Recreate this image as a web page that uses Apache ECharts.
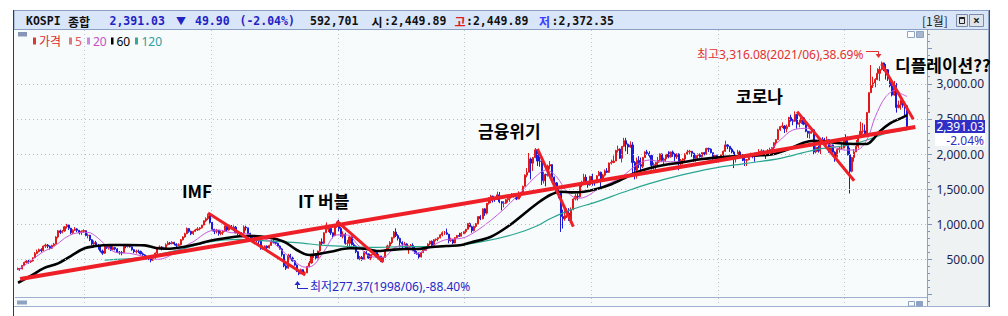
<!DOCTYPE html>
<html>
<head>
<meta charset="utf-8">
<script src="https://cdn.jsdelivr.net/npm/echarts@6.0.0/dist/echarts.min.js"></script>
<style>
html, body { margin: 0; padding: 0; background: #fff; }
#chart { width: 1008px; height: 316px; }
</style>
</head>
<body>
<div id="chart"></div>
<script>
// KOSPI 월봉, 1987/05 ~ 2022/06 (open = 전월 종가)
var firstYear = 1987, firstMonth = 5, monthCount = 431;
var firstOpen = 355;

var closes = [
  372, 366, 415, 458, 478, 468, 480, 525,
  585, 612, 640, 625, 690, 705, 688, 660, 700, 720, 820, 907,
  885, 905, 965, 990, 945, 880, 915, 935, 915, 880, 900, 910,
  840, 845, 780, 720, 740, 695, 690, 620, 590, 690, 665, 696,
  640, 670, 650, 605, 600, 595, 690, 685, 700, 680, 640, 610,
  620, 615, 580, 565, 545, 515, 510, 490, 525, 590, 660, 678,
  650, 665, 710, 735, 725, 745, 720, 700, 710, 780, 820, 866,
  940, 900, 865, 900, 920, 935, 950, 990, 1050, 1080, 1125, 1027,
  930, 900, 915, 870, 885, 900, 975, 920, 960, 950, 960, 882,
  870, 860, 870, 960, 950, 870, 830, 800, 790, 770, 760, 651,
  670, 690, 665, 700, 760, 740, 730, 690, 650, 570, 410, 376,
  560, 520, 480, 420, 330, 298, 355, 310, 310, 400, 450, 562,
  580, 520, 620, 750, 730, 880, 930, 940, 880, 840, 980, 1028,
  940, 830, 860, 730, 730, 820, 710, 690, 610, 510, 530, 504,
  600, 580, 520, 570, 590, 600, 540, 550, 480, 530, 640, 693,
  740, 810, 890, 840, 800, 740, 720, 720, 650, 680, 700, 627,
  590, 575, 535, 600, 630, 670, 720, 760, 700, 780, 790, 810,
  850, 880, 880, 860, 770, 780, 735, 810, 840, 830, 870, 896,
  930, 1010, 965, 910, 970, 1010, 1110, 1080, 1220, 1160, 1300, 1379,
  1400, 1370, 1360, 1420, 1320, 1300, 1300, 1350, 1370, 1390, 1430, 1434,
  1360, 1420, 1450, 1540, 1700, 1740, 1930, 1870, 1950, 2060, 1900, 1897,
  1620, 1710, 1700, 1830, 1850, 1670, 1590, 1470, 1450, 1110, 1080, 1124,
  1160, 1060, 1210, 1360, 1400, 1390, 1560, 1590, 1670, 1580, 1560, 1683,
  1600, 1590, 1690, 1740, 1640, 1700, 1760, 1740, 1870, 1880, 1900, 2051,
  2070, 1940, 2110, 2190, 2140, 2100, 2130, 1880, 1770, 1910, 1850, 1826,
  1950, 2030, 2010, 1980, 1840, 1850, 1880, 1910, 2000, 1910, 1930, 1997,
  1960, 2030, 2000, 1960, 2000, 1860, 1910, 1930, 2000, 2030, 2040, 2011,
  1940, 1980, 1990, 1960, 2020, 2000, 2080, 2070, 2020, 1960, 1980, 1916,
  1950, 1990, 2040, 2130, 2110, 2070, 2030, 1940, 1960, 2030, 1990, 1961,
  1910, 1920, 1995, 1995, 1980, 1970, 2015, 2035, 2045, 2010, 1985, 2026,
  2065, 2090, 2160, 2205, 2345, 2390, 2400, 2360, 2390, 2520, 2475, 2467,
  2565, 2425, 2445, 2515, 2425, 2325, 2295, 2320, 2345, 2030, 2095, 2041,
  2205, 2195, 2140, 2205, 2040, 2130, 2025, 1965, 2065, 2085, 2085, 2198,
  2120, 1990, 1755, 1950, 2030, 2110, 2250, 2325, 2330, 2270, 2590, 2873,
  2976, 3013, 3061, 3148, 3204, 3297, 3202, 3199, 3069, 2971, 2839, 2977,
  2663, 2699, 2757, 2695, 2686, 2391.03
];
var highs = [
  385, 380, 420, 470, 490, 495, 490, 530,
  605, 640, 655, 660, 700, 725, 720, 700, 710, 735, 830, 920,
  925, 920, 975, 1007, 995, 950, 930, 960, 945, 920, 915, 930,
  915, 870, 850, 790, 770, 765, 720, 695, 640, 710, 700, 710,
  710, 690, 680, 660, 620, 620, 700, 720, 710, 715, 685, 650,
  640, 640, 625, 600, 575, 555, 535, 515, 540, 600, 680, 700,
  690, 680, 730, 760, 750, 760, 750, 730, 730, 790, 830, 880,
  955, 945, 910, 910, 935, 960, 960, 1000, 1055, 1100, 1150, 1130,
  1035, 935, 935, 920, 905, 920, 985, 990, 975, 990, 985, 975,
  890, 880, 890, 985, 980, 950, 880, 835, 820, 800, 780, 760,
  700, 700, 700, 710, 780, 790, 765, 740, 700, 665, 575, 430,
  580, 580, 540, 490, 430, 345, 370, 360, 330, 410, 480, 580,
  640, 590, 625, 760, 800, 885, 1027, 975, 960, 880, 985, 1030,
  1066, 960, 900, 880, 780, 830, 830, 740, 700, 620, 550, 550,
  620, 620, 580, 575, 630, 620, 600, 580, 550, 540, 645, 710,
  760, 820, 905, 943, 860, 810, 760, 750, 730, 700, 720, 730,
  680, 620, 600, 610, 640, 690, 730, 765, 770, 790, 800, 815,
  860, 900, 905, 940, 860, 810, 790, 820, 850, 880, 890, 900,
  935, 1020, 1025, 980, 980, 1020, 1115, 1130, 1225, 1230, 1300, 1385,
  1420, 1410, 1390, 1465, 1460, 1330, 1330, 1360, 1380, 1400, 1445, 1440,
  1440, 1470, 1460, 1550, 1710, 1800, 2015, 1950, 1960, 2085, 2070, 1960,
  1900, 1750, 1720, 1850, 1900, 1850, 1680, 1600, 1520, 1460, 1210, 1210,
  1230, 1230, 1240, 1370, 1435, 1440, 1570, 1620, 1720, 1710, 1600, 1690,
  1720, 1630, 1700, 1760, 1750, 1720, 1780, 1800, 1880, 1920, 1980, 2060,
  2120, 2080, 2110, 2231, 2230, 2150, 2180, 2170, 1900, 1950, 1970, 1950,
  1960, 2040, 2060, 2040, 1990, 1880, 1890, 1960, 2010, 2010, 1950, 2000,
  2040, 2030, 2050, 2010, 2010, 2010, 1930, 1940, 2010, 2060, 2060, 2040,
  2020, 1990, 2010, 2010, 2030, 2030, 2090, 2090, 2080, 2020, 1990, 1990,
  1960, 1990, 2050, 2190, 2140, 2110, 2090, 2050, 1990, 2060, 2050, 2000,
  1970, 1930, 2000, 2020, 2000, 2020, 2030, 2070, 2070, 2060, 2010, 2070,
  2090, 2100, 2170, 2210, 2360, 2400, 2450, 2410, 2420, 2530, 2560, 2500,
  2607, 2570, 2490, 2520, 2520, 2460, 2330, 2330, 2370, 2340, 2110, 2120,
  2210, 2240, 2230, 2250, 2210, 2140, 2135, 2040, 2090, 2100, 2160, 2200,
  2280, 2250, 2090, 1960, 2070, 2200, 2260, 2460, 2440, 2420, 2600, 2880,
  3266, 3100, 3080, 3220, 3250, 3316, 3300, 3280, 3210, 3090, 3020, 3040,
  3010, 2760, 2770, 2780, 2700, 2700
];
var lows = [
  350, 340, 360, 405, 445, 440, 450, 470,
  520, 575, 600, 600, 620, 665, 660, 640, 650, 690, 715, 800,
  860, 870, 895, 940, 920, 860, 860, 905, 890, 855, 850, 880,
  830, 800, 760, 700, 700, 680, 640, 600, 566, 580, 650, 640,
  620, 630, 630, 595, 570, 560, 590, 660, 670, 670, 625, 590,
  585, 590, 570, 550, 530, 500, 490, 459, 480, 510, 575, 650,
  630, 635, 655, 700, 710, 715, 700, 670, 695, 700, 770, 810,
  860, 880, 845, 850, 890, 905, 915, 940, 985, 1030, 1060, 1010,
  900, 860, 870, 840, 845, 850, 890, 900, 910, 930, 935, 870,
  840, 835, 850, 870, 910, 860, 800, 770, 760, 750, 720, 640,
  640, 650, 610, 655, 695, 730, 710, 680, 640, 540, 390, 350,
  370, 500, 470, 410, 320, 277, 290, 300, 290, 305, 390, 440,
  520, 500, 515, 610, 700, 720, 880, 890, 850, 800, 830, 950,
  900, 820, 800, 710, 660, 660, 700, 670, 590, 500, 490, 480,
  500, 570, 510, 490, 560, 570, 530, 530, 463, 470, 520, 620,
  660, 720, 800, 820, 770, 670, 640, 700, 640, 580, 670, 620,
  580, 570, 512, 530, 590, 630, 650, 700, 690, 700, 760, 760,
  800, 830, 850, 850, 730, 750, 720, 730, 800, 820, 830, 860,
  870, 925, 960, 880, 900, 950, 1000, 1060, 1070, 1120, 1140, 1280,
  1300, 1310, 1320, 1350, 1300, 1200, 1240, 1290, 1310, 1320, 1380, 1380,
  1345, 1360, 1380, 1450, 1540, 1670, 1740, 1640, 1760, 1940, 1830, 1820,
  1560, 1580, 1540, 1680, 1780, 1650, 1490, 1440, 1370, 892, 940, 1050,
  1090, 1050, 1020, 1200, 1340, 1340, 1380, 1530, 1580, 1560, 1520, 1550,
  1550, 1550, 1590, 1690, 1530, 1630, 1680, 1730, 1730, 1850, 1870, 1900,
  2020, 1930, 1880, 2100, 2040, 2000, 2090, 1680, 1640, 1650, 1800, 1760,
  1800, 1950, 1990, 1950, 1780, 1780, 1760, 1820, 1880, 1890, 1850, 1890,
  1940, 1950, 1960, 1900, 1930, 1770, 1830, 1850, 1900, 1990, 1990, 1960,
  1890, 1890, 1910, 1950, 1950, 1980, 1990, 2030, 2010, 1900, 1930, 1880,
  1880, 1940, 1960, 2030, 2070, 2030, 2010, 1800, 1880, 1950, 1950, 1900,
  1830, 1830, 1910, 1970, 1940, 1890, 1960, 2010, 1990, 2000, 1930, 1970,
  2020, 2050, 2070, 2120, 2200, 2330, 2370, 2300, 2310, 2390, 2460, 2410,
  2460, 2360, 2380, 2430, 2410, 2310, 2230, 2220, 2290, 1990, 2010, 2020,
  2000, 2180, 2120, 2130, 2020, 2020, 2010, 1890, 1950, 2020, 2070, 2080,
  2110, 1980, 1439, 1740, 1890, 2030, 2080, 2260, 2290, 2260, 2260, 2590,
  2870, 2940, 2950, 3050, 3040, 3190, 3180, 3060, 3040, 2950, 2820, 2830,
  2590, 2650, 2630, 2660, 2550, 2372.35
];

// 이동평균선
var ma20 = [
  ['1987/05', 350], ['1987/11', 482], ['1988/05', 611], ['1988/10', 682], ['1989/03', 801],
  ['1989/08', 872], ['1990/02', 886], ['1990/07', 801], ['1990/12', 659], ['1991/04', 596],
  ['1991/10', 587], ['1992/05', 540], ['1992/11', 502], ['1993/04', 540], ['1993/10', 659],
  ['1994/04', 753], ['1994/11', 895], ['1995/04', 919], ['1995/10', 881], ['1996/04', 872],
  ['1996/10', 824], ['1997/05', 753], ['1997/11', 600], ['1998/04', 470], ['1998/09', 390],
  ['1999/01', 420], ['1999/06', 620], ['1999/12', 850], ['2000/05', 848], ['2000/10', 706],
  ['2001/04', 540], ['2001/10', 530], ['2002/03', 659], ['2002/08', 706], ['2003/02', 587],
  ['2003/08', 673], ['2004/03', 777], ['2004/11', 801], ['2005/03', 848], ['2005/09', 966],
  ['2006/04', 1133], ['2006/10', 1299], ['2007/04', 1488], ['2007/11', 1702], ['2008/03', 1773],
  ['2008/08', 1678], ['2009/01', 1464], ['2009/06', 1370], ['2009/10', 1393], ['2010/03', 1488],
  ['2010/09', 1584], ['2011/03', 1678], ['2011/10', 1844], ['2012/04', 1915], ['2012/10', 1891],
  ['2013/06', 1891], ['2014/10', 1939], ['2016/02', 1953], ['2016/11', 2011], ['2017/06', 2200],
  ['2017/12', 2342], ['2018/07', 2366], ['2019/01', 2224], ['2019/07', 2105], ['2020/01', 2057],
  ['2020/06', 2057], ['2020/11', 2200], ['2021/03', 2531], ['2021/08', 2816], ['2022/01', 2911],
  ['2022/03', 2864], ['2022/06', 2820]
];
var ma60 = [
  ['1987/05', 169], ['1987/11', 265], ['1988/05', 374], ['1988/12', 445], ['1989/06', 549],
  ['1989/12', 653], ['1990/05', 687], ['1991/01', 706], ['1991/09', 706], ['1992/05', 701],
  ['1992/11', 659], ['1993/05', 653], ['1993/12', 682], ['1994/06', 720], ['1994/12', 767],
  ['1995/07', 801], ['1996/02', 830], ['1996/07', 835], ['1997/04', 810], ['1997/11', 753],
  ['1998/05', 635], ['1998/11', 563], ['1999/09', 611], ['2000/06', 659], ['2001/01', 653],
  ['2001/07', 620], ['2002/01', 635], ['2002/08', 649], ['2003/02', 649], ['2003/08', 673],
  ['2004/04', 692], ['2004/11', 706], ['2005/03', 739], ['2006/01', 824], ['2006/10', 990],
  ['2007/04', 1133], ['2007/11', 1299], ['2008/05', 1417], ['2008/10', 1464], ['2009/03', 1455],
  ['2009/09', 1464], ['2010/03', 1502], ['2010/09', 1559], ['2011/04', 1654], ['2011/10', 1740],
  ['2012/04', 1797], ['2012/11', 1844], ['2013/07', 1880], ['2014/04', 1925], ['2015/01', 1953],
  ['2015/11', 1972], ['2016/09', 1982], ['2017/03', 2000], ['2017/11', 2082], ['2018/05', 2162],
  ['2018/10', 2190], ['2019/04', 2176], ['2019/10', 2153], ['2020/05', 2143], ['2020/11', 2143],
  ['2021/02', 2210], ['2021/05', 2318], ['2021/10', 2437], ['2022/03', 2508], ['2022/06', 2555]
];
var ma120 = [
  ['1990/10', 492], ['1992/05', 530], ['1993/02', 587], ['1993/12', 659], ['1994/12', 753],
  ['1996/02', 787], ['1997/01', 767], ['1998/05', 740], ['1999/06', 700], ['2000/07', 682],
  ['2001/07', 673], ['2002/08', 682], ['2003/08', 682], ['2004/06', 690], ['2005/10', 760],
  ['2007/01', 870], ['2007/11', 980], ['2008/05', 1080], ['2009/03', 1210], ['2010/03', 1320],
  ['2011/04', 1460], ['2012/04', 1580], ['2013/07', 1700], ['2014/10', 1797], ['2016/02', 1868],
  ['2017/06', 1939], ['2018/10', 2057], ['2020/02', 2129], ['2020/11', 2200], ['2021/08', 2295],
  ['2022/06', 2345]
];

// 추세선
var trendMain = [['1987/06', 222], ['2022/10', 2385]];
var trendImf = [['1994/11', 1161], ['1998/09', 279]];
var trendIt = [['1999/12', 1047], ['2001/10', 464]];
var trendCrisis = [['2007/11', 2072], ['2009/04', 966]];
var trendCorona = [['2018/02', 2603], ['2020/05', 1621]];
var trendDefl = [['2021/06', 3281], ['2022/09', 2494]];

var gridValues = [500, 1000, 1500, 2000, 2500, 3000];
var labelValues = [500, 1000, 1500, 2000, 2500, 3000];
var majorTicks = [0, 500, 1000, 1500, 2000, 2500, 3000, 3500];

var months = [];
for (var i = 0; i < monthCount; i++) {
  var t = firstYear * 12 + firstMonth - 1 + i;
  months.push(Math.floor(t / 12) + '/' + String(t % 12 + 1).padStart(2, '0'));
}
var minorTicks = [];
for (var v = -100; v <= 3700; v += 100) minorTicks.push(v);

var candles = closes.map(function (c, i) {
  var o = i === 0 ? firstOpen : closes[i - 1];
  return [o, c, lows[i], highs[i]];
});

var mono = '"DejaVu Sans Mono", "Noto Sans CJK KR", monospace';
var sans = '"Noto Sans", "Noto Sans CJK KR", sans-serif';
var kr = '"Noto Sans CJK KR", "Noto Sans", sans-serif';
var blue = '#2323c4';
var red = '#e02020';

function txt(x, y, s, color, font, align, z) {
  return {
    type: 'text', x: x, y: y, z: z || 100, silent: true,
    style: { text: s, fill: color, font: font, textAlign: align || 'left', textVerticalAlign: 'middle' }
  };
}
function box(x, y, w, h, fill, stroke, z) {
  return {
    type: 'rect', z: z == null ? 100 : z, silent: true,
    shape: { x: x, y: y, width: w, height: h },
    style: { fill: fill, stroke: stroke || null, lineWidth: 1 }
  };
}
function seg(points, color, width, z) {
  return {
    type: 'polyline', z: z || 100, silent: true,
    shape: { points: points },
    style: { stroke: color, lineWidth: width || 1, fill: null }
  };
}
function tri(points, color) {
  return { type: 'polygon', z: 100, silent: true, shape: { points: points }, style: { fill: color } };
}

var headerFont = 'bold 11.5px ' + mono;
var headerKr = 'bold 12px ' + kr;
var legendFont = '12px ' + sans;
var noteFont = 'bold 17px ' + kr;
var smallFont = '12px ' + sans;

var elements = [
  // 배경
  box(14, 10, 975, 297, '#f7fbfc', null, -1),
  box(927.5, 29.5, 61, 277, '#eef2f2', null, -1),
  box(14, 10.5, 975, 19, '#d9e5f8', '#8c9ec2', 1),
  seg([[13.5, 10], [13.5, 316]], '#3a3a3a', 1, 1),
  seg([[927.5, 30], [927.5, 306]], '#8ea2c2', 1, 1),
  seg([[988.5, 10], [988.5, 306.5]], '#8ea2c2', 1, 1),
  seg([[989.5, 10], [989.5, 307]], '#4a4a4a', 1, 1),
  seg([[15, 297.5], [927, 297.5]], '#9fb1cc', 1, 1),
  seg([[14, 306.5], [989, 306.5]], '#9fb1cc', 1, 1),
  box(17, 300.5, 10, 4, '#8ea2c2', null, 1),
  box(908.5, 301.5, 6, 4.5, '#ffffff', '#8ea2c2', 1),
  box(916.5, 301.5, 6, 4.5, '#8ea2c2', '#8ea2c2', 1),
  box(18, 32, 9, 4.5, '#8796b8', null, 1),
  box(907.5, 31.5, 7, 6, '#ffffff', '#8ea2c2', 1),
  box(916.5, 31.5, 7, 6, '#a8b6cc', '#8ea2c2', 1),

  // 헤더
  txt(26, 21, 'KOSPI', '#111', headerFont),
  txt(68, 21, '종합', '#111', headerKr),
  txt(109.5, 21, '2,391.03', blue, headerFont),
  txt(176, 21, '▼', blue, 'bold 10px ' + sans),
  txt(195, 21, '49.90', blue, headerFont),
  txt(239.5, 21, '(-2.04%)', blue, headerFont),
  txt(310, 21, '592,701', '#111', headerFont),
  txt(371.5, 21, '시', '#111', headerKr),
  txt(384, 21, ':2,449.89', '#111', headerFont),
  txt(454.5, 21, '고', red, headerKr),
  txt(466, 21, ':2,449.89', '#111', headerFont),
  txt(539, 21, '저', '#3b3bff', headerKr),
  txt(551.5, 21, ':2,372.35', '#111', headerFont),
  txt(922, 20.5, '[1월]', '#222', '12px ' + kr),
  box(956.5, 14.5, 11, 12, '#dfe4ea', '#7d8ca6'),
  box(969.5, 14.5, 14, 12, '#dfe4ea', '#7d8ca6'),
  box(959.5, 17.5, 5, 6, null, '#222'),
  seg([[959.5, 18], [964.5, 18]], '#222', 2),
  txt(976.5, 20.5, '×', '#222', 'bold 12px ' + sans, 'center'),

  // 범례
  box(33, 37.5, 3, 7, '#d83a3a'),
  txt(39, 41, '가격', '#e02a2a', legendFont),
  box(69, 37.5, 3, 7, '#e07a7a'),
  txt(75, 41, '5', '#e05a5a', legendFont),
  box(87, 37.5, 3, 7, '#c98ae0'),
  txt(93, 41, '20', '#c850c8', legendFont),
  box(111, 37.5, 2.5, 7, '#000'),
  txt(116.5, 41, '60', '#000', legendFont),
  box(135, 37.5, 3, 7, '#3aa896'),
  txt(141.5, 41, '120', '#26a0a0', legendFont),

  // 주석
  txt(182, 190, 'IMF', '#000', noteFont),
  txt(298, 200, 'IT 버블', '#000', noteFont),
  txt(478, 130.5, '금융위기', '#000', noteFont),
  txt(736, 95, '코로나', '#000', noteFont),
  txt(895, 64.5, '디플레이션??', '#000', noteFont),

  txt(697, 54, '최고3,316.08(2021/06),38.69%', '#e43030', smallFont),
  seg([[866, 51.5], [878.5, 51.5], [878.5, 55]], '#e43030', 1),
  tri([[875.5, 54], [881.5, 54], [878.5, 58]], '#e43030'),
  txt(310, 286, '최저277.37(1998/06),-88.40%', '#2828c8', smallFont),
  seg([[297.5, 284], [297.5, 288.5], [308, 288.5]], '#2828c8', 1),
  tri([[294.5, 285], [300.5, 285], [297.5, 281]], '#2828c8'),

  // 현재가
  box(935, 120, 50, 13, '#2f2fc6'),
  txt(984, 126.3, '2,391.03', '#ffffff', smallFont, 'right'),
  box(935, 133, 50, 13, '#ffffff'),
  txt(984, 140, '-2.04%', '#2f2fc6', smallFont, 'right')
];

function trend(points, width, ends) {
  return {
    type: 'line', data: points, z: 6, silent: true,
    symbol: ends ? 'rect' : 'none', symbolSize: 5, showSymbol: !!ends,
    itemStyle: { color: '#ffffff', borderColor: '#555', borderWidth: 1 },
    lineStyle: { color: '#ee1f26', width: width }
  };
}
function maLine(points, color, width, z) {
  return {
    type: 'line', data: points, z: z, silent: true, smooth: 0.35,
    symbol: 'none', lineStyle: { color: color, width: width }
  };
}

var chart = echarts.init(document.getElementById('chart'), null, { renderer: 'svg' });
chart.setOption({
  animation: false,
  backgroundColor: '#ffffff',
  grid: { left: 17, right: 81, top: 30, bottom: 10, outerBoundsMode: 'none', containLabel: false },
  xAxis: {
    type: 'category', data: months, boundaryGap: true,
    axisLine: { show: false }, axisTick: { show: false }, axisLabel: { show: false },
    splitLine: {
      show: true,
      interval: function (index, value) {
        return value.slice(5) === '01' && Number(value.slice(0, 4)) % 5 === 0;
      },
      lineStyle: { type: [1, 3], color: '#bcc6d0', width: 1 }
    }
  },
  yAxis: [{
    type: 'value', position: 'right', min: -162, max: 3765,
    axisLine: { show: false },
    splitLine: { show: false },
    axisTick: { show: true, length: 5, customValues: majorTicks, lineStyle: { color: '#7f95b8' } },
    axisLabel: {
      customValues: labelValues, align: 'right', margin: 57,
      color: '#1c2450', fontFamily: 'Noto Sans', fontSize: 12,
      formatter: function (v) {
        return v.toLocaleString('en-US', { minimumFractionDigits: 2, maximumFractionDigits: 2 });
      }
    }
  }, {
    type: 'value', position: 'right', min: -162, max: 3765,
    axisLine: { show: false }, axisLabel: { show: false }, splitLine: { show: false },
    axisTick: { show: true, length: 3, customValues: minorTicks, lineStyle: { color: '#7f95b8' } }
  }],
  series: [
    {
      type: 'line', data: [], z: 1, silent: true,
      markLine: {
        silent: true, symbol: ['none', 'none'], label: { show: false }, animation: false,
        lineStyle: { type: [1, 3], color: '#b4bec8', width: 1 },
        data: gridValues.map(function (g) { return { yAxis: g }; })
      }
    },
    {
      type: 'candlestick', data: candles, z: 2, silent: true, barWidth: 1.6,
      itemStyle: {
        color: '#e81e1e', color0: '#1e1ee0',
        borderColor: '#e01818', borderColor0: '#1a1ad8', borderWidth: 1
      }
    },
    maLine(ma120, '#2aa58f', 1.2, 3),
    maLine(ma20, '#c85ad8', 1, 3),
    maLine(ma60, '#000000', 2.6, 4),
    trend(trendMain, 4, true),
    trend(trendImf, 3),
    trend(trendIt, 3),
    trend(trendCrisis, 3),
    trend(trendCorona, 3),
    trend(trendDefl, 3)
  ],
  graphic: { elements: elements }
});
</script>
</body>
</html>
